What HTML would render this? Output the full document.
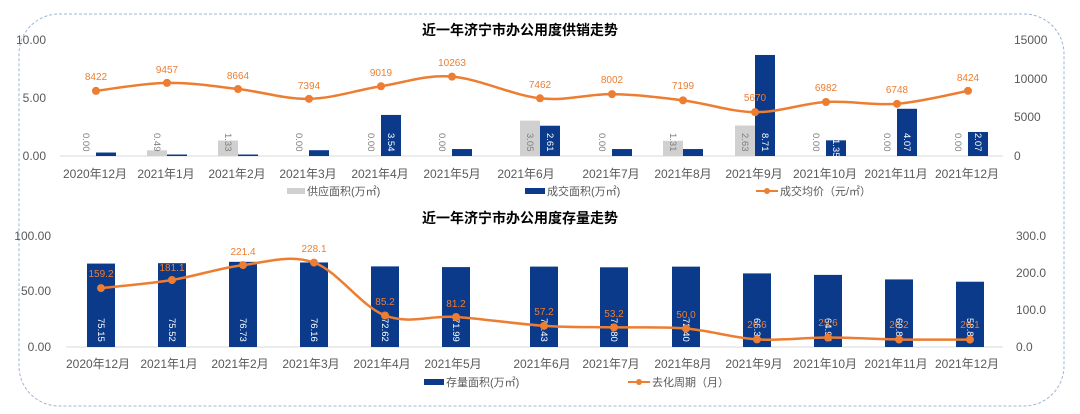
<!DOCTYPE html>
<html><head><meta charset="utf-8"><style>
html,body{margin:0;padding:0;background:#fff;}
svg{display:block;font-family:"Liberation Sans","Noto Sans CJK SC",sans-serif;}
.ax{font-size:12px;fill:#595959;}
.xl{font-size:12px;fill:#595959;text-anchor:middle;}
.pl{font-size:10px;fill:#ED7D31;text-anchor:middle;}
.t{font-size:14px;font-weight:bold;fill:#000;text-anchor:middle;font-family:"Noto Sans CJK SC",sans-serif;}
.lg{font-size:11px;fill:#595959;}
.vl{font-size:9.5px;}
</style></head><body>
<svg id="s" width="1080" height="414" viewBox="0 0 1080 414">
<rect x="19" y="14" width="1045" height="392" rx="40" fill="none" stroke="#9fb4d8" stroke-dasharray="3,2"/>
<text class="t" x="520" y="35">近一年济宁市办公用度供销走势</text>
<text class="t" x="520" y="223">近一年济宁市办公用度存量走势</text>
<line x1="60" y1="156" x2="1003" y2="156" stroke="#d9d9d9"/>
<line x1="66" y1="347" x2="1003" y2="347" stroke="#d9d9d9"/>
<g class="ax" text-anchor="end">
<text x="46" y="44">10.00</text><text x="46" y="102">5.00</text><text x="46" y="160">0.00</text>
<text x="51" y="240">100.00</text><text x="51" y="295">50.00</text><text x="51" y="351">0.00</text>
</g>
<g class="ax" text-anchor="start">
<text x="1014" y="44">15000</text><text x="1014" y="121">5000</text><text x="1014" y="83">10000</text><text x="1014" y="160">0</text>
<text x="1016" y="240">300.0</text><text x="1016" y="277">200.0</text><text x="1016" y="314">100.0</text><text x="1016" y="351">0.0</text>
</g>
<g id="gtop"></g><g id="gbot"></g>
<g class="xl">
<text x="95" y="178">2020年12月</text><text x="166" y="178">2021年1月</text><text x="237" y="178">2021年2月</text><text x="308" y="178">2021年3月</text><text x="380" y="178">2021年4月</text><text x="452" y="178">2021年5月</text><text x="526" y="178">2021年6月</text><text x="611" y="178">2021年7月</text><text x="683" y="178">2021年8月</text><text x="754" y="178">2021年9月</text><text x="825" y="178">2021年10月</text><text x="896" y="178">2021年11月</text><text x="967" y="178">2021年12月</text>
<text x="98" y="368">2020年12月</text><text x="169" y="368">2021年1月</text><text x="240" y="368">2021年2月</text><text x="311" y="368">2021年3月</text><text x="382" y="368">2021年4月</text><text x="453" y="368">2021年5月</text><text x="542" y="368">2021年6月</text><text x="611" y="368">2021年7月</text><text x="683" y="368">2021年8月</text><text x="754" y="368">2021年9月</text><text x="825" y="368">2021年10月</text><text x="896" y="368">2021年11月</text><text x="967" y="368">2021年12月</text>
</g>
<rect x="287" y="188" width="18" height="6" fill="#d0d0d0"/><text class="lg" x="307" y="195">供应面积(万㎡)</text>
<rect x="525" y="188" width="20" height="6" fill="#0b3a8a"/><text class="lg" x="547" y="195">成交面积(万㎡)</text>
<line x1="756" y1="191" x2="778" y2="191" stroke="#ED7D31" stroke-width="2"/><circle cx="767" cy="191" r="3" fill="#ED7D31"/><text class="lg" x="780" y="195">成交均价（元/㎡）</text>
<rect x="424" y="379" width="20" height="6" fill="#0b3a8a"/><text class="lg" x="446" y="386">存量面积(万㎡)</text>
<line x1="628" y1="382" x2="650" y2="382" stroke="#ED7D31" stroke-width="2"/><circle cx="639" cy="382" r="3" fill="#ED7D31"/><text class="lg" x="652" y="386">去化周期（月）</text>
<g class="vl" id="vals">
<text transform="translate(83,133) rotate(90)" fill="#7f7f7f">0.00</text>
<text transform="translate(154,133) rotate(90)" fill="#7f7f7f">0.49</text>
<text transform="translate(225,133) rotate(90)" fill="#7f7f7f">1.33</text>
<text transform="translate(296,133) rotate(90)" fill="#7f7f7f">0.00</text>
<text transform="translate(368,133) rotate(90)" fill="#7f7f7f">0.00</text>
<text transform="translate(439,133) rotate(90)" fill="#7f7f7f">0.00</text>
<text transform="translate(527,133) rotate(90)" fill="#7f7f7f">3.05</text>
<text transform="translate(599,133) rotate(90)" fill="#7f7f7f">0.00</text>
<text transform="translate(670,133) rotate(90)" fill="#7f7f7f">1.31</text>
<text transform="translate(742,133) rotate(90)" fill="#7f7f7f">2.63</text>
<text transform="translate(813,133) rotate(90)" fill="#7f7f7f">0.00</text>
<text transform="translate(884,133) rotate(90)" fill="#7f7f7f">0.00</text>
<text transform="translate(955,133) rotate(90)" fill="#7f7f7f">0.00</text>
<text transform="translate(388,133) rotate(90)" fill="#fff">3.54</text>
<text transform="translate(547,133) rotate(90)" fill="#fff">2.61</text>
<text transform="translate(762,133) rotate(90)" fill="#fff">8.71</text>
<text transform="translate(833,139) rotate(90)" fill="#fff">1.35</text>
<text transform="translate(904,133) rotate(90)" fill="#fff">4.07</text>
<text transform="translate(975,133) rotate(90)" fill="#fff">2.07</text>
<text transform="translate(98,318) rotate(90)" fill="#fff">75.15</text>
<text transform="translate(169,318) rotate(90)" fill="#fff">75.52</text>
<text transform="translate(240,318) rotate(90)" fill="#fff">76.73</text>
<text transform="translate(311,318) rotate(90)" fill="#fff">76.16</text>
<text transform="translate(382,318) rotate(90)" fill="#fff">72.62</text>
<text transform="translate(453,318) rotate(90)" fill="#fff">71.99</text>
<text transform="translate(541,318) rotate(90)" fill="#fff">72.43</text>
<text transform="translate(611,318) rotate(90)" fill="#fff">71.80</text>
<text transform="translate(683,318) rotate(90)" fill="#fff">72.40</text>
<text transform="translate(754,318) rotate(90)" fill="#fff">66.31</text>
<text transform="translate(825,318) rotate(90)" fill="#fff">64.96</text>
<text transform="translate(896,318) rotate(90)" fill="#fff">60.89</text>
<text transform="translate(967,318) rotate(90)" fill="#fff">58.82</text>
</g>
<g id="glines"></g>
<g class="pl">
<text x="96" y="80">8422</text><text x="167" y="73">9457</text><text x="238" y="79">8664</text><text x="309" y="89">7394</text><text x="381" y="76">9019</text><text x="452" y="66">10263</text><text x="540" y="88">7462</text><text x="612" y="83">8002</text><text x="683" y="89">7199</text><text x="755" y="101">5670</text><text x="826" y="91">6982</text><text x="897" y="93">6748</text><text x="968" y="81">8424</text>
<text x="101" y="277">159.2</text><text x="172" y="271">181.1</text><text x="243" y="255">221.4</text><text x="314" y="252">228.1</text><text x="385" y="305">85.2</text><text x="456" y="307">81.2</text><text x="544" y="315">57.2</text><text x="614" y="317">53.2</text><text x="686" y="318">50.0</text><text x="757" y="328">26.6</text><text x="828" y="326">25.6</text><text x="899" y="328">20.2</text><text x="970" y="328">20.1</text>
</g>
</svg>
<script>
(function(){
var NS="http://www.w3.org/2000/svg";
function el(p,n,a){var e=document.createElementNS(NS,n);for(var k in a)e.setAttribute(k,a[k]);p.appendChild(e);return e;}
function smooth(pts){var d="M"+pts[0][0]+","+pts[0][1];for(var i=0;i<pts.length-1;i++){var p0=pts[i-1]||pts[i],p1=pts[i],p2=pts[i+1],p3=pts[i+2]||p2;var t=0.17;d+=" C"+(p1[0]+(p2[0]-p0[0])*t)+","+(p1[1]+(p2[1]-p0[1])*t)+" "+(p2[0]-(p3[0]-p1[0])*t)+","+(p2[1]-(p3[1]-p1[1])*t)+" "+p2[0]+","+p2[1];}return d;}
var gTop=document.getElementById("gtop"),gBot=document.getElementById("gbot"),gL=document.getElementById("glines");
var c=[96,167,238,309,381,452,540,612,683,755,826,897,968];
var sup=[0,0.49,1.33,0,0,0,3.05,0,1.31,2.63,0,0,0];
var deal=[0.3,0.05,0.05,0.5,3.54,0.6,2.61,0.6,0.6,8.71,1.35,4.07,2.07];
var price=[8422,9457,8664,7394,9019,10263,7462,8002,7199,5670,6982,6748,8424];
var pts=[],i,h,h2;
for(i=0;i<13;i++){
 if(sup[i]>0){h=sup[i]*11.6;el(gTop,"rect",{x:c[i]-20,y:156-h,width:20,height:h,fill:"#d0d0d0"});}
 h2=Math.max(deal[i]*11.6,1.5);el(gTop,"rect",{x:c[i],y:156-h2,width:20,height:h2,fill:"#0b3a8a"});
 pts.push([c[i],156-price[i]*116/15000]);
}
el(gL,"path",{d:smooth(pts),fill:"none",stroke:"#ED7D31","stroke-width":2.5});
pts.forEach(function(p){el(gL,"circle",{cx:p[0],cy:p[1],r:4,fill:"#ED7D31"});});
var b=[101,172,243,314,385,456,544,614,686,757,828,899,970];
var st=[75.15,75.52,76.73,76.16,72.62,71.99,72.43,71.80,72.40,66.31,64.96,60.89,58.82];
var cy=[159.2,181.1,221.4,228.1,85.2,81.2,57.2,53.2,50.0,20.6,25.6,20.2,20.1];
var p2=[];
for(i=0;i<13;i++){h=st[i]*1.11;el(gBot,"rect",{x:b[i]-14,y:347-h,width:28,height:h,fill:"#0b3a8a"});p2.push([b[i],347-cy[i]*0.37]);}
el(gL,"path",{d:smooth(p2),fill:"none",stroke:"#ED7D31","stroke-width":2.5});
p2.forEach(function(p){el(gL,"circle",{cx:p[0],cy:p[1],r:4,fill:"#ED7D31"});});
})();
</script>
</body></html>
